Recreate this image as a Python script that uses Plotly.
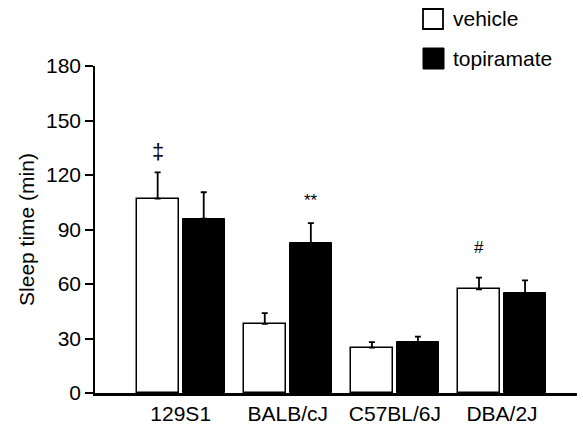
import plotly.graph_objects as go

strains = ["129S1", "BALB/cJ", "C57BL/6J", "DBA/2J"]
vehicle_mean = [107, 38, 25, 57]
vehicle_sem = [14.5, 6, 3, 6.5]
topiramate_mean = [96, 82.5, 28, 55]
topiramate_sem = [14.5, 11, 3, 7]
y_ticks = [0, 30, 60, 90, 120, 150, 180]
marks = ["‡", "**", "", "#"]
mark_group = ["vehicle", "topiramate", None, "vehicle"]
mark_y = [133, 106, None, 80]

FONT = "Liberation Sans, Arial, Helvetica, sans-serif"
FS = 21
xs = list(range(len(strains)))
W = 0.39

fig = go.Figure()
fig.add_trace(go.Bar(
    x=xs, y=vehicle_mean, width=W, offset=-0.41,
    marker=dict(color="white", line=dict(color="black", width=1.5)),
    error_y=dict(type="data", array=vehicle_sem, arrayminus=[0]*4, symmetric=False,
                 color="black", thickness=1.8, width=3),
    name="vehicle", showlegend=False))
fig.add_trace(go.Bar(
    x=xs, y=topiramate_mean, width=W, offset=0.02,
    marker=dict(color="black", line=dict(color="black", width=1)),
    error_y=dict(type="data", array=topiramate_sem, arrayminus=[0]*4, symmetric=False,
                 color="black", thickness=1.8, width=3),
    name="topiramate", showlegend=False))

for i, (m, g, yy) in enumerate(zip(marks, mark_group, mark_y)):
    if not m:
        continue
    xc = i - 0.215 if g == "vehicle" else i + 0.215
    fig.add_annotation(x=xc, y=yy, xref="x", yref="y", text=m, showarrow=False,
                       font=dict(size=22 if m == "‡" else 17, color="black", family=FONT),
                       yanchor="middle")

# legend drawn manually
def px2paper(px, py):
    return (px - 95) / 482, (393 - py) / 327

x0, y0 = px2paper(423, 29)
x1, y1 = px2paper(443, 9)
fig.add_shape(type="rect", xref="paper", yref="paper", x0=x0, y0=y0, x1=x1, y1=y1,
              line=dict(color="black", width=1.8), fillcolor="white")
x0, y0 = px2paper(423, 69)
x1, y1 = px2paper(444, 48)
fig.add_shape(type="rect", xref="paper", yref="paper", x0=x0, y0=y0, x1=x1, y1=y1,
              line=dict(color="black", width=1), fillcolor="black")
tx, ty = px2paper(451, 19)
fig.add_annotation(xref="paper", yref="paper", x=tx, y=ty, text="vehicle", showarrow=False,
                   xanchor="left", yanchor="middle", font=dict(size=FS, color="black", family=FONT))
tx, ty = px2paper(451, 59)
fig.add_annotation(xref="paper", yref="paper", x=tx, y=ty, text="topiramate", showarrow=False,
                   xanchor="left", yanchor="middle", font=dict(size=FS, color="black", family=FONT))

fig.update_layout(
    width=583, height=424,
    margin=dict(l=95, r=6, t=66, b=31),
    paper_bgcolor="white", plot_bgcolor="white",
    font=dict(family=FONT, size=FS, color="black"),
    xaxis=dict(range=[-0.8, 3.7], tickmode="array", tickvals=xs, ticktext=strains,
               showline=True, linecolor="black", linewidth=2.5, ticks="",
               showgrid=False, zeroline=False, fixedrange=True, automargin=False,
               tickfont=dict(size=FS)),
    yaxis=dict(range=[0, 180], tickmode="array", tickvals=y_ticks,
               ticks="outside", ticklen=8, tickwidth=1.5, tickcolor="black",
               showline=True, linecolor="black", linewidth=1.5,
               showgrid=False, zeroline=False, fixedrange=True, automargin=False,
               title=dict(text="Sleep time (min)", font=dict(size=FS), standoff=6),
               tickfont=dict(size=FS)),
    bargap=0, barmode="overlay",
)

fig.write_html("out.html", config={"displayModeBar": False},
               post_script="document.body.style.margin='0';")
